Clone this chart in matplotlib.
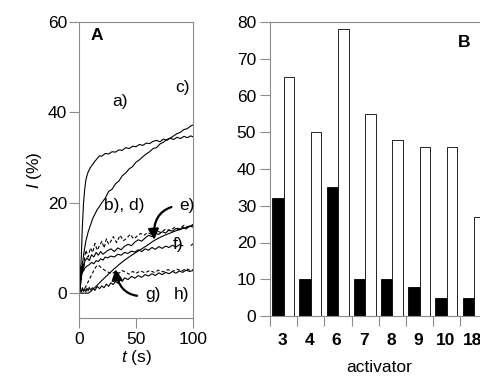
import matplotlib
matplotlib.use("Agg")
import matplotlib.pyplot as plt
import numpy as np

plt.rcParams['font.family'] = ['Liberation Sans', 'DejaVu Sans']
plt.rcParams['mathtext.fontset'] = 'custom'
plt.rcParams['mathtext.it'] = 'Liberation Sans:italic'
plt.rcParams['mathtext.rm'] = 'Liberation Sans'

# ---- Panel A data (t in s, I in %) ----
t_a = [0,1,2,3,4,5,6,7,8,9,10,12,14,16,18,20,23,26,29,32,35,38,41,44,47,50,53,56,59,62,65,68,71,74,77,80,83,86,89,92,95,98,100]
I_a = [0,2,8,15,20,23,25,26,26.8,27.3,27.8,28.5,29.2,29.8,30.4,30.3,30.9,30.8,31.3,31.2,31.7,31.6,32.2,32,32.5,32.4,32.9,32.7,33.2,33.1,33.6,33.8,33.5,34.1,33.8,34.3,34,34.5,34.2,34.7,34.4,34.8,34.6]

t_c = [0,1,2,3,4,5,6,7,8,10,12,14,16,18,20,23,26,29,32,35,38,41,44,47,50,53,56,59,62,65,68,71,74,77,80,83,86,89,92,95,98,100]
I_c = [0,1,3,6,8.5,10,11.5,12.5,13.5,15,16.5,17.5,18.5,19.2,20,21,22.5,23,24.2,24.8,26,26.6,27.5,28,29,29.5,30.2,30.8,31.3,32,32.2,33,33.4,34,34.3,34.8,35.3,35.6,36.2,36.4,37,37.2]

t_b = [0,0.5,1,1.5,2,3,4,5,7,9,11,13,15,17,19,21,23,25,28,31,34,37,40,43,46,49,52,55,58,61,64,67,70,73,76,79,82,85,88,91,94,97,100]
I_b = [0,5,2,6,4,6.5,5.5,7,7.8,7.2,8.5,8,9,8.4,9.2,8.6,9,9.4,9.8,9.2,10,9.6,10.4,10.8,10.5,11.3,11.8,11.5,12.2,12.8,12.5,13.2,13,13.6,13.3,14,13.7,14.3,14,14.6,14.2,14.9,14.6]

t_d = [0,1,2,3,4,5,6,8,10,12,14,16,18,20,22,24,26,28,30,33,36,39,42,45,48,51,54,57,60,64,68,72,76,80,84,88,92,96,100]
I_d = [0,6,3,7,5,8,9.5,8,10,9,11,9.5,10.5,11.5,10,12,10.8,11.5,12.5,11.2,12.8,11.6,12.2,13,12,12.6,13.2,12.8,13.4,13,13.8,13.4,14.2,13.8,14.6,14.2,15,14.6,15.2]

t_e = [0,5,8,10,12,15,20,25,30,35,40,45,50,55,60,65,70,75,80,85,90,95,100]
I_e = [0,0,0,0.3,0.8,1.5,2.8,4,5.2,6.3,7.3,8.2,9,9.8,10.6,11.5,12.2,12.8,13.3,13.8,14.2,14.6,15]

t_f = [0,0.5,1,1.5,2,2.5,3,4,5,7,9,11,13,15,17,19,21,23,25,28,31,34,37,40,43,46,49,52,55,58,61,64,67,70,73,76,79,82,85,88,91,93,98.5,100]
I_f = [0,4,1,5,3,5.5,4.5,5,5.5,6,6.3,6.8,6.5,7.2,7,7.6,7.3,8,7.8,8.2,8,8.6,8.4,9,8.8,9.3,9.1,9.6,9.2,9.8,9.5,10.1,9.7,10.3,9.9,10.4,10.1,10.6,10.2,10.7,10.5,np.nan,10.6,10.9]

t_g = [0,2,4,6,8,10,12,14,16,18,20,23,26,29,32,35,38,41,44,47,50,54,58,62,66,70,74,78,82,86,90,94,98,100]
I_g = [0,1,0.5,1.5,2.5,3.5,4.5,5.5,6.2,6,5.5,5,4.6,4.3,4.8,4.4,5,4.6,4.2,4.8,4.4,4.9,4.5,5,4.6,5.1,4.7,5.2,4.8,5.3,4.9,5.4,5,5.2]

t_h = [0,1,2,3,4,5,6,7,8,9,10,12,14,16,18,20,22,24,26,28,30,32,34,36,38,40,43,46,49,52,55,58,61,64,67,70,73,76,79,82,85,88,91,94,97,100]
I_h = [0,0.8,0.2,1.2,0.4,1,0.3,1.1,0.5,1.3,0.7,1.2,0.6,1.5,1,1.6,1.2,2,1.5,2.3,1.9,2.6,2.2,3,2.6,3.4,3,3.7,3.3,3.9,3.5,4.1,3.8,4.3,3.9,4.5,4.1,4.6,4.3,4.8,4.4,4.9,4.6,5.1,4.8,5]

a_yticks = [0, 20, 40, 60]
a_xticks = [0, 50, 100]

# ---- Panel B data ----
activators = ['3', '4', '6', '7', '8', '9', '10', '18']
black_vals = [32, 10, 35, 10, 10, 8, 5, 5]
white_vals = [65, 50, 78, 55, 48, 46, 46, 27]
b_yticks = [0, 10, 20, 30, 40, 50, 60, 70, 80]

W, H = 481, 380
fig = plt.figure(figsize=(W/100, H/100), dpi=100)
gray = '#8c8c8c'
fs = 12.5

# ---------- Panel A ----------
axA = fig.add_axes([79/W, 1-318/H, 114/W, 296/H])
lw = 0.8
axA.plot(t_a, I_a, color='black', lw=lw)
axA.plot(t_c, I_c, color='black', lw=lw)
axA.plot(t_b, I_b, color='black', lw=lw)
axA.plot(t_d, I_d, color='black', lw=lw, ls=(0, (3, 2)))
axA.plot(t_e, I_e, color='black', lw=lw)
axA.plot(t_f, I_f, color='black', lw=lw)
axA.plot(t_g, I_g, color='black', lw=lw, ls=(0, (3, 2)))
axA.plot(t_h, I_h, color='black', lw=lw)

axA.set_xlim(0, 100)
axA.set_ylim(-5.5, 60)
axA.set_xticks(a_xticks)
axA.set_yticks(a_yticks)
for s in axA.spines.values():
    s.set_color(gray)
axA.tick_params(axis='y', direction='out', length=7.5, color=gray, labelsize=fs, pad=1)
axA.tick_params(axis='x', direction='out', length=7, color=gray, labelsize=fs, pad=3)
axA.set_ylabel(r'$I$ (%)', fontsize=fs, labelpad=3)
axA.set_xlabel(r'$t$ (s)', fontsize=fs, labelpad=1)

axA.text(15.5, 57, 'A', fontsize=fs, fontweight='bold', ha='center', va='center')
axA.text(36, 42.4, 'a)', fontsize=fs, ha='center', va='center')
axA.text(91, 45.4, 'c)', fontsize=fs, ha='center', va='center')
axA.text(40, 19.5, 'b), d)', fontsize=fs, ha='center', va='center')
axA.text(87, 10.8, 'f)', fontsize=fs, ha='center', va='center')
axA.text(89.5, -0.3, 'h)', fontsize=fs, ha='center', va='center')
axA.annotate('e)', xy=(66, 11.8), xytext=(95, 19.5), fontsize=fs, ha='center', va='center',
             arrowprops=dict(arrowstyle='-|>,head_length=0.5,head_width=0.25', color='black', lw=1.6,
                             connectionstyle='arc3,rad=0.55', shrinkA=4, shrinkB=0))
axA.annotate('g)', xy=(32, 5.3), xytext=(65, -0.3), fontsize=fs, ha='center', va='center',
             arrowprops=dict(arrowstyle='-|>,head_length=0.5,head_width=0.25', color='black', lw=1.6,
                             connectionstyle='arc3,rad=-0.55', shrinkA=4, shrinkB=0))

# ---------- Panel B ----------
axB = fig.add_axes([270/W, 1-316/H, 217.6/W, 294/H])
x = np.arange(len(activators))
axB.bar(x + 0.08, black_vals, width=0.42, align='edge', color='black', edgecolor='black', lw=0.6)
axB.bar(x + 0.5, white_vals, width=0.39, align='edge', color='white', edgecolor='black', lw=0.6)
axB.set_xlim(0, len(activators))
axB.set_ylim(0, 80)
axB.set_yticks(b_yticks)
axB.set_xticks(x)
axB.set_xticklabels([])
axB.set_xticks(x + 0.45, minor=True)
axB.set_xticklabels(activators, minor=True, fontweight='bold', fontsize=fs)
axB.tick_params(axis='x', which='minor', length=0, pad=12)
axB.tick_params(axis='x', which='major', direction='out', length=7, color=gray)
axB.tick_params(axis='y', direction='out', length=7, color=gray, labelsize=fs, pad=3)
for s in axB.spines.values():
    s.set_color(gray)
axB.set_xlabel('activator', fontsize=fs, labelpad=9)
axB.text(7.15, 74.5, 'B', fontsize=fs, fontweight='bold', ha='center', va='center')

fig.savefig('out.png', dpi=100)
